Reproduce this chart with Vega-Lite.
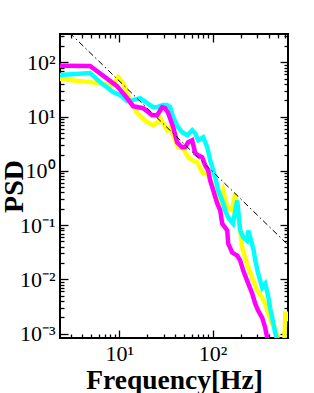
{
  "$schema": "https://vega.github.io/schema/vega-lite/v6.json",
  "width": 228,
  "height": 304,
  "autosize": "none",
  "padding": {"left": 60, "top": 34, "right": 26, "bottom": 55},
  "background": "white",
  "config": {
    "view": {"stroke": "#000000", "strokeWidth": 2, "strokeOpacity": 1},
    "axis": {"grid": false, "domain": false, "ticks": true, "labelFont": "Liberation Serif", "titleFont": "Liberation Serif", "labelColor": "black", "titleColor": "black", "tickColor": "black", "tickWidth": 1.3, "labelOverlap": false, "labelFlush": false}
  },
  "datasets": {
    "yellow": [
      {"f":2.3,"psd":49.1},{"f":4.84,"psd":43.2},{"f":8.55,"psd":38.0},{"f":9.68,"psd":53.5},{"f":10.96,"psd":41.4},{"f":13.0,"psd":20.1},{"f":15.5,"psd":11.6},{"f":19.9,"psd":7.87},{"f":23.0,"psd":6.93},{"f":26.0,"psd":7.87},{"f":27.4,"psd":9.34},{"f":29.5,"psd":7.55},{"f":32.6,"psd":5.61},{"f":35.1,"psd":6.37},{"f":39.7,"psd":3.66},{"f":42.7,"psd":2.72},{"f":48.4,"psd":2.60},{"f":54.8,"psd":1.78},{"f":60.5,"psd":1.57},{"f":68.5,"psd":1.44},{"f":73.8,"psd":1.11},{"f":79.4,"psd":0.899},{"f":87.7,"psd":0.938},{"f":94.4,"psd":0.668},{"f":101.8,"psd":0.496},{"f":112.4,"psd":0.384},{"f":121,"psd":0.285},{"f":130,"psd":0.436},{"f":144,"psd":0.211},{"f":163,"psd":0.186},{"f":175,"psd":0.384},{"f":189,"psd":0.164},{"f":208.5,"psd":0.0385},{"f":224.7,"psd":0.0252},{"f":242,"psd":0.0165},{"f":267,"psd":0.0107},{"f":302.5,"psd":0.00618},{"f":342,"psd":0.00458},{"f":368.6,"psd":0.00355},{"f":397,"psd":0.00232},{"f":438,"psd":0.00151},{"f":472,"psd":0.00127},{"f":496,"psd":0.00083},{"f":540,"psd":0.0006},{"f":590,"psd":0.0006},{"f":604.7,"psd":0.00232},{"f":635,"psd":0.00232},{"f":650,"psd":0.0017}
    ],
    "cyan": [
      {"f":2.3,"psd":58.2},{"f":4.84,"psd":63.4},{"f":6.2,"psd":43.2},{"f":8.55,"psd":28.3},{"f":10.2,"psd":24.9},{"f":12.1,"psd":19.3},{"f":14.0,"psd":20.1},{"f":16.7,"psd":21.9},{"f":19.9,"psd":17.7},{"f":23.0,"psd":14.9},{"f":25.4,"psd":14.9},{"f":29.5,"psd":16.3},{"f":32.6,"psd":16.3},{"f":35.1,"psd":14.9},{"f":37.8,"psd":9.75},{"f":42.7,"psd":6.37},{"f":47.2,"psd":5.15},{"f":53.4,"psd":4.53},{"f":60.5,"psd":5.61},{"f":65.2,"psd":4.93},{"f":70.2,"psd":3.66},{"f":79.4,"psd":4.16},{"f":87.7,"psd":2.72},{"f":94.4,"psd":1.57},{"f":106.9,"psd":0.759},{"f":115.1,"psd":0.436},{"f":127.1,"psd":0.285},{"f":136.9,"psd":0.186},{"f":147.4,"psd":0.138},{"f":166,"psd":0.107},{"f":184.2,"psd":0.285},{"f":198.5,"psd":0.0794},{"f":213.8,"psd":0.0594},{"f":234,"psd":0.0519},{"f":242.2,"psd":0.0794},{"f":254,"psd":0.0594},{"f":277,"psd":0.034},{"f":287.8,"psd":0.0222},{"f":309.8,"psd":0.0127},{"f":342.2,"psd":0.00702},{"f":368.6,"psd":0.00833},{"f":397,"psd":0.0048},{"f":417,"psd":0.00286},{"f":449,"psd":0.00158},{"f":472,"psd":0.00103},{"f":496,"psd":0.00075}
    ],
    "magenta": [
      {"f":2.3,"psd":86.5},{"f":4.84,"psd":85.4},{"f":9.44,"psd":36.5},{"f":12.1,"psd":21.9},{"f":14.0,"psd":15.6},{"f":18.0,"psd":14.3},{"f":22.5,"psd":10.6},{"f":25.4,"psd":10.6},{"f":28.8,"psd":14.9},{"f":31.0,"psd":14.3},{"f":33.4,"psd":11.6},{"f":37.8,"psd":6.37},{"f":41.7,"psd":3.36},{"f":47.2,"psd":2.72},{"f":50.8,"psd":2.72},{"f":54.8,"psd":3.36},{"f":60.5,"psd":3.66},{"f":65.2,"psd":2.10},{"f":70.2,"psd":1.94},{"f":77.5,"psd":1.78},{"f":83.5,"psd":1.26},{"f":89.9,"psd":1.02},{"f":94.4,"psd":0.668},{"f":101.8,"psd":0.436},{"f":112.4,"psd":0.251},{"f":121,"psd":0.186},{"f":127.1,"psd":0.107},{"f":143.9,"psd":0.0794},{"f":147.4,"psd":0.0457},{"f":162.8,"psd":0.0312},{"f":184.2,"psd":0.0274},{"f":198.5,"psd":0.0222},{"f":213.8,"psd":0.0145},{"f":242.2,"psd":0.00833},{"f":267.4,"psd":0.00543},{"f":287.8,"psd":0.00355},{"f":309.8,"psd":0.00263},{"f":342.2,"psd":0.00195},{"f":368.6,"psd":0.00127},{"f":387.3,"psd":0.00083},{"f":417,"psd":0.0006}
    ],
    "slope": [
      {"f":2.9,"psd":354},{"f":650,"psd":0.0429}
    ]
  },
  "resolve": {"axis": {"x": "independent", "y": "independent"}},
  "layer": [
    {
      "data": {"name": "yellow"},
      "mark": {"type": "line", "color": "#ffff00", "strokeWidth": 4.5, "clip": true, "strokeJoin": "miter"},
      "encoding": {
        "x": {"field": "f", "type": "quantitative", "scale": {"type": "log", "domain": [2.3, 647]},
          "axis": {"orient": "bottom", "values": [10, 100], "offset": -8, "tickSize": 8,
            "labelExpr": "datum.value == 10 ? '10¹' : '10²'",
            "labelFontSize": 22, "labelPadding": 5, "labelBaseline": "top",
            "title": "Frequency[Hz]", "titleFontSize": 27.5, "titleFontWeight": "bold", "titleX": 114, "titleY": 58, "titleBaseline": "alphabetic", "titleAlign": "center"}},
        "y": {"field": "psd", "type": "quantitative", "scale": {"type": "log", "domain": [0.00083, 333]},
          "axis": {"orient": "left", "values": [0.001, 0.01, 0.1, 1, 10, 100], "offset": -8, "tickSize": 8,
            "labelExpr": "datum.value == 0.001 ? '10⁻³' : datum.value == 0.01 ? '10⁻²' : datum.value == 0.1 ? '10⁻¹' : datum.value == 1 ? '10⁰' : datum.value == 10 ? '10¹' : '10²'",
            "labelFontSize": 22, "labelPadding": 5, "labelBaseline": "middle",
            "title": "PSD", "titleFontSize": 28, "titleFontWeight": "bold", "titleX": -54, "titleY": 152, "titleAngle": -90, "titleBaseline": "middle", "titleAlign": "center"}}
      }
    },
    {
      "data": {"name": "cyan"},
      "mark": {"type": "line", "color": "#00ffff", "strokeWidth": 4.5, "clip": true, "strokeJoin": "miter"},
      "encoding": {
        "x": {"field": "f", "type": "quantitative", "scale": {"type": "log", "domain": [2.3, 647]},
          "axis": {"orient": "bottom", "values": [3,4,5,6,7,8,9,20,30,40,50,60,70,80,90,200,300,400,500,600], "offset": -4, "tickSize": 4, "labels": false, "title": null}},
        "y": {"field": "psd", "type": "quantitative", "scale": {"type": "log", "domain": [0.00083, 333]},
          "axis": {"orient": "left", "values": [0.002,0.003,0.004,0.005,0.006,0.007,0.008,0.009,0.02,0.03,0.04,0.05,0.06,0.07,0.08,0.09,0.2,0.3,0.4,0.5,0.6,0.7,0.8,0.9,2,3,4,5,6,7,8,9,20,30,40,50,60,70,80,90,200,300], "offset": -4, "tickSize": 4, "labels": false, "title": null}}
      }
    },
    {
      "data": {"name": "magenta"},
      "mark": {"type": "line", "color": "#ff00ff", "strokeWidth": 4.5, "clip": true, "strokeJoin": "miter"},
      "encoding": {
        "x": {"field": "f", "type": "quantitative", "scale": {"type": "log", "domain": [2.3, 647]},
          "axis": {"orient": "top", "values": [10, 100], "offset": -8, "tickSize": 8, "labels": false, "title": null}},
        "y": {"field": "psd", "type": "quantitative", "scale": {"type": "log", "domain": [0.00083, 333]},
          "axis": {"orient": "right", "values": [0.001, 0.01, 0.1, 1, 10, 100], "offset": -8, "tickSize": 8, "labels": false, "title": null}}
      }
    },
    {
      "data": {"name": "slope"},
      "mark": {"type": "line", "color": "black", "strokeWidth": 1, "clip": true, "strokeDash": [6, 3, 1.5, 3]},
      "encoding": {
        "x": {"field": "f", "type": "quantitative", "scale": {"type": "log", "domain": [2.3, 647]},
          "axis": {"orient": "top", "values": [3,4,5,6,7,8,9,20,30,40,50,60,70,80,90,200,300,400,500,600], "offset": -4, "tickSize": 4, "labels": false, "title": null}},
        "y": {"field": "psd", "type": "quantitative", "scale": {"type": "log", "domain": [0.00083, 333]},
          "axis": {"orient": "right", "values": [0.002,0.003,0.004,0.005,0.006,0.007,0.008,0.009,0.02,0.03,0.04,0.05,0.06,0.07,0.08,0.09,0.2,0.3,0.4,0.5,0.6,0.7,0.8,0.9,2,3,4,5,6,7,8,9,20,30,40,50,60,70,80,90,200,300], "offset": -4, "tickSize": 4, "labels": false, "title": null}}
      }
    }
  ]
}
